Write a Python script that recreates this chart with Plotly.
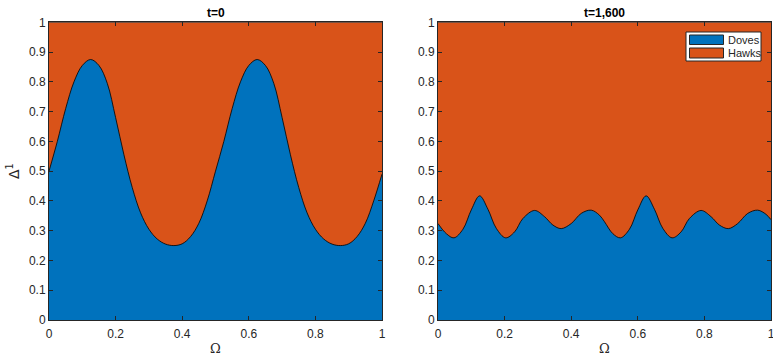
import plotly.graph_objects as go

# ---- data ----
omega_t0 = [0.0, 0.025, 0.05, 0.075, 0.1, 0.125, 0.15, 0.175, 0.2, 0.225, 0.25,
            0.275, 0.3, 0.325, 0.35, 0.375, 0.4, 0.425, 0.45, 0.475, 0.5,
            0.525, 0.55, 0.575, 0.6, 0.625, 0.65, 0.675, 0.7, 0.725, 0.75,
            0.775, 0.8, 0.825, 0.85, 0.875, 0.9, 0.925, 0.95, 0.975, 1.0]
doves_t0 = [0.5, 0.6, 0.71, 0.8, 0.855, 0.875, 0.855, 0.795, 0.68, 0.555, 0.445,
            0.36, 0.305, 0.272, 0.255, 0.25, 0.256, 0.28, 0.325, 0.4, 0.5,
            0.6, 0.71, 0.8, 0.855, 0.875, 0.855, 0.795, 0.68, 0.555, 0.445,
            0.36, 0.305, 0.272, 0.255, 0.25, 0.256, 0.28, 0.325, 0.4, 0.49]

omega_t1600 = [0.0, 0.025, 0.048, 0.075, 0.1, 0.125, 0.15, 0.175, 0.203, 0.23,
               0.255, 0.29, 0.32, 0.345, 0.37, 0.4, 0.43, 0.46, 0.485, 0.5,
               0.525, 0.548, 0.575, 0.6, 0.625, 0.65, 0.675, 0.703, 0.73,
               0.755, 0.79, 0.82, 0.845, 0.872, 0.9, 0.93, 0.96, 0.985, 1.0]
doves_t1600 = [0.324, 0.29, 0.276, 0.305, 0.37, 0.417, 0.372, 0.308, 0.276, 0.296,
               0.341, 0.368, 0.347, 0.319, 0.307, 0.324, 0.358, 0.369, 0.352, 0.33,
               0.29, 0.276, 0.305, 0.37, 0.417, 0.372, 0.308, 0.276, 0.296,
               0.341, 0.368, 0.347, 0.319, 0.307, 0.324, 0.358, 0.369, 0.355, 0.337]

titles = ["t=0", "t=1,600"]
series_names = ["Doves", "Hawks"]
tick_vals_x = [0, 0.2, 0.4, 0.6, 0.8, 1]
tick_text_x = ["0", "0.2", "0.4", "0.6", "0.8", "1"]
tick_vals_y = [0, 0.1, 0.2, 0.3, 0.4, 0.5, 0.6, 0.7, 0.8, 0.9, 1]
tick_text_y = ["0", "0.1", "0.2", "0.3", "0.4", "0.5", "0.6", "0.7", "0.8", "0.9", "1"]

BLUE = "#0072BD"
ORANGE = "#D95319"
AX = "#262626"
W, H = 773, 356

fig = go.Figure()

panels = [(omega_t0, doves_t0, "x", "y"), (omega_t1600, doves_t1600, "x2", "y2")]
for xs, ys, xa, ya in panels:
    fig.add_trace(go.Scatter(
        x=[0, 1], y=[1, 1], xaxis=xa, yaxis=ya, mode="lines",
        fill="tozeroy", fillcolor=ORANGE, line=dict(color="black", width=0.8),
        name=series_names[1], showlegend=False, hoverinfo="skip"))
    fig.add_trace(go.Scatter(
        x=xs, y=ys, xaxis=xa, yaxis=ya, mode="lines",
        fill="tozeroy", fillcolor=BLUE,
        line=dict(color="black", width=0.8, shape="spline", smoothing=1.0),
        name=series_names[0], showlegend=False, hoverinfo="skip"))

axis_common = dict(
    range=[0, 1], showgrid=False, zeroline=False, showline=True, automargin=False,
    linecolor=AX, linewidth=1, mirror="ticks", ticks="inside", ticklen=4,
    tickcolor=AX, ticklabeloverflow="allow",
    tickfont=dict(family="Liberation Sans, Arial", size=12, color=AX),
)

yd = [1 - 320 / H, 1 - 22.3 / H]
xtitle = dict(text="Ω", standoff=5, font=dict(family="DejaVu Serif", size=13, color=AX))
fig.update_layout(
    width=W, height=H,
    margin=dict(l=0, r=0, t=0, b=0),
    paper_bgcolor="white", plot_bgcolor="white",
    xaxis=dict(domain=[49 / W, 382 / W], anchor="y", ticklabelstandoff=3,
               tickvals=tick_vals_x, ticktext=tick_text_x, title=xtitle,
               **axis_common),
    yaxis=dict(domain=yd, anchor="x",
               tickvals=tick_vals_y, ticktext=tick_text_y,
               title=dict(text="Δ<sup>1</sup>", standoff=6,
                          font=dict(family="DejaVu Sans", size=14, color=AX)),
               **axis_common),
    xaxis2=dict(domain=[438 / W, 771 / W], anchor="y2", ticklabelstandoff=3,
                tickvals=tick_vals_x, ticktext=tick_text_x, title=xtitle,
                **axis_common),
    yaxis2=dict(domain=yd, anchor="x2",
                tickvals=tick_vals_y, ticktext=tick_text_y,
                **axis_common),
    showlegend=False,
)

for title, x0, x1 in [(titles[0], 49, 382), (titles[1], 438, 771)]:
    fig.add_annotation(text="<b>" + title + "</b>", xref="paper", yref="paper",
                       x=(x0 + x1) / 2 / W, y=1 - 13.5 / H,
                       xanchor="center", yanchor="middle", showarrow=False,
                       font=dict(family="Liberation Sans, Arial", size=12, color="black"))

# custom legend box in the right panel (MATLAB style)
def px(x, y):
    return x / W, 1 - y / H

bx0, by0 = px(686, 32)
bx1, by1 = px(761, 61)
fig.add_shape(type="rect", xref="paper", yref="paper", x0=bx0, y0=by0, x1=bx1, y1=by1,
              fillcolor="white", line=dict(color=AX, width=1))
for name, col, yt, yb in [(series_names[0], BLUE, 35, 44.5), (series_names[1], ORANGE, 48, 58)]:
    sx0, sy0 = px(689.5, yt)
    sx1, sy1 = px(723.5, yb)
    fig.add_shape(type="rect", xref="paper", yref="paper", x0=sx0, y0=sy0, x1=sx1, y1=sy1,
                  fillcolor=col, line=dict(color=AX, width=1))
    tx, ty = px(726, (yt + yb) / 2)
    fig.add_annotation(text=name, xref="paper", yref="paper", x=tx, y=ty,
                       xanchor="left", yanchor="middle", showarrow=False,
                       font=dict(family="Liberation Sans, Arial", size=11, color=AX))

fig.write_html("out.html", config={"displayModeBar": False},
               post_script="document.body.style.margin='0';document.body.style.overflow='hidden';")
